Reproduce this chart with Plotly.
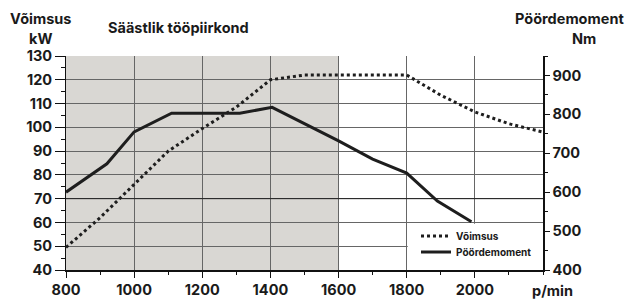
import plotly.graph_objects as go

# ---- data ----
power_rpm = [800, 900, 1000, 1100, 1200, 1300, 1400, 1500, 1600, 1700, 1800, 1900, 2000, 2100, 2200]
power_kw = [49.5, 62, 76, 90, 99.5, 108.5, 120, 122, 122, 122, 122, 113.5, 106.5, 101.5, 98]

torque_rpm = [800, 920, 1000, 1030, 1110, 1310, 1405, 1600, 1700, 1800, 1890, 1990]
torque_nm = [600, 673, 755, 768, 803, 803, 818, 732, 685, 649, 577, 524]

x_ticks = [800, 1000, 1200, 1400, 1600, 1800, 2000]
left_ticks = [40, 50, 60, 70, 80, 90, 100, 110, 120, 130]
right_ticks = [400, 500, 600, 700, 800, 900]

eco_range = [800, 1600]

FONT = "Inter"
W, H = 629, 300
ML, MR, MT, MB = 66, 86, 56, 30
PW = W - ML - MR
PH = H - MT - MB


def px(x):
    return (x - ML) / PW


def py(y):
    return (H - MB - y) / PH


fig = go.Figure()

fig.add_trace(go.Scatter(
    x=power_rpm, y=power_kw, mode="lines", name="Võimsus",
    line=dict(color="#1e1e1e", width=3, dash="3px,3px"),
    yaxis="y", legend="legend", hoverinfo="skip",
))
fig.add_trace(go.Scatter(
    x=torque_rpm, y=torque_nm, mode="lines", name="Pöördemoment",
    line=dict(color="#1e1e1e", width=3),
    yaxis="y2", legend="legend2", hoverinfo="skip",
))

shapes = [
    dict(type="rect", xref="x", yref="y", x0=eco_range[0], x1=eco_range[1], y0=40, y1=130,
         fillcolor="#d9d7d3", line=dict(width=0), layer="below"),
    dict(type="rect", xref="x", yref="y", x0=1803, x1=2200, y0=40, y1=59.5,
         fillcolor="white", line=dict(width=0), layer="between"),
    dict(type="line", xref="x", yref="y", x0=800, x1=2200, y0=70, y1=70,
         line=dict(color="#222", width=1), layer="between"),
]

tickfont = dict(family=FONT, size=14.5, color="#1a1a1a", weight=700)

ann_font = dict(family=FONT, size=14.5, color="#1a1a1a", weight=700)
annotations = [
    dict(text="Võimsus", x=px(41), y=py(19), xref="paper", yref="paper", showarrow=False,
         xanchor="center", yanchor="middle", font=ann_font),
    dict(text="kW", x=px(40), y=py(39), xref="paper", yref="paper", showarrow=False,
         xanchor="center", yanchor="middle", font=ann_font),
    dict(text="Säästlik tööpiirkond", x=px(178), y=py(28), xref="paper", yref="paper", showarrow=False,
         xanchor="center", yanchor="middle", font=ann_font),
    dict(text="Pöördemoment", x=px(569), y=py(19), xref="paper", yref="paper", showarrow=False,
         xanchor="center", yanchor="middle", font=ann_font),
    dict(text="Nm", x=px(584), y=py(39), xref="paper", yref="paper", showarrow=False,
         xanchor="center", yanchor="middle", font=ann_font),
    dict(text="p/min", x=px(552), y=py(290), xref="paper", yref="paper", showarrow=False,
         xanchor="center", yanchor="middle", font=tickfont),
]

legend_font = dict(family=FONT, size=10, color="#1a1a1a", weight=700)

fig.update_layout(
    width=W, height=H,
    margin=dict(l=ML, r=MR, t=MT, b=MB, pad=0, autoexpand=False),
    paper_bgcolor="white", plot_bgcolor="white",
    font=dict(family=FONT, color="#1a1a1a"),
    shapes=shapes,
    annotations=annotations,
    showlegend=True,
    hovermode=False,
    legend=dict(x=px(416), y=py(236), xanchor="left", yanchor="middle",
                bgcolor="rgba(0,0,0,0)", borderwidth=0, font=legend_font, itemwidth=30),
    legend2=dict(x=px(416), y=py(252), xanchor="left", yanchor="middle",
                 bgcolor="rgba(0,0,0,0)", borderwidth=0, font=legend_font, itemwidth=30),
    xaxis=dict(
        range=[800, 2200], tickvals=x_ticks, ticktext=[str(v) for v in x_ticks],
        showgrid=True, gridcolor="#666", gridwidth=1,
        showline=True, linecolor="#111", linewidth=1.5,
        ticks="outside", ticklen=6, tickcolor="#111", tickwidth=1,
        minor=dict(dtick=100, tick0=800, ticks="outside", ticklen=3, tickcolor="#111", showgrid=False),
        tickfont=tickfont, zeroline=False, fixedrange=True, automargin=False,
    ),
    yaxis=dict(
        range=[40, 130], tickvals=left_ticks,
        showgrid=True, gridcolor="#666", gridwidth=1,
        showline=True, linecolor="#111", linewidth=1,
        ticks="outside", ticklen=10, tickcolor="#111",
        minor=dict(dtick=5, tick0=40, ticks="outside", ticklen=4, tickcolor="#111", showgrid=False),
        tickfont=tickfont, zeroline=False, fixedrange=True, automargin=False,
    ),
    yaxis2=dict(
        range=[400, 950], tickvals=right_ticks, overlaying="y", side="right",
        showgrid=False, showline=True, linecolor="#111", linewidth=1.5,
        ticks="outside", ticklen=5, tickcolor="#111",
        minor=dict(dtick=50, tick0=400, ticks="outside", ticklen=3, tickcolor="#111", showgrid=False),
        tickfont=tickfont, zeroline=False, fixedrange=True, automargin=False,
    ),
)

fig.write_html(
    "out.html",
    config={"displayModeBar": False, "staticPlot": True},
    post_script="document.body.style.margin='0';document.body.style.padding='0';",
)
